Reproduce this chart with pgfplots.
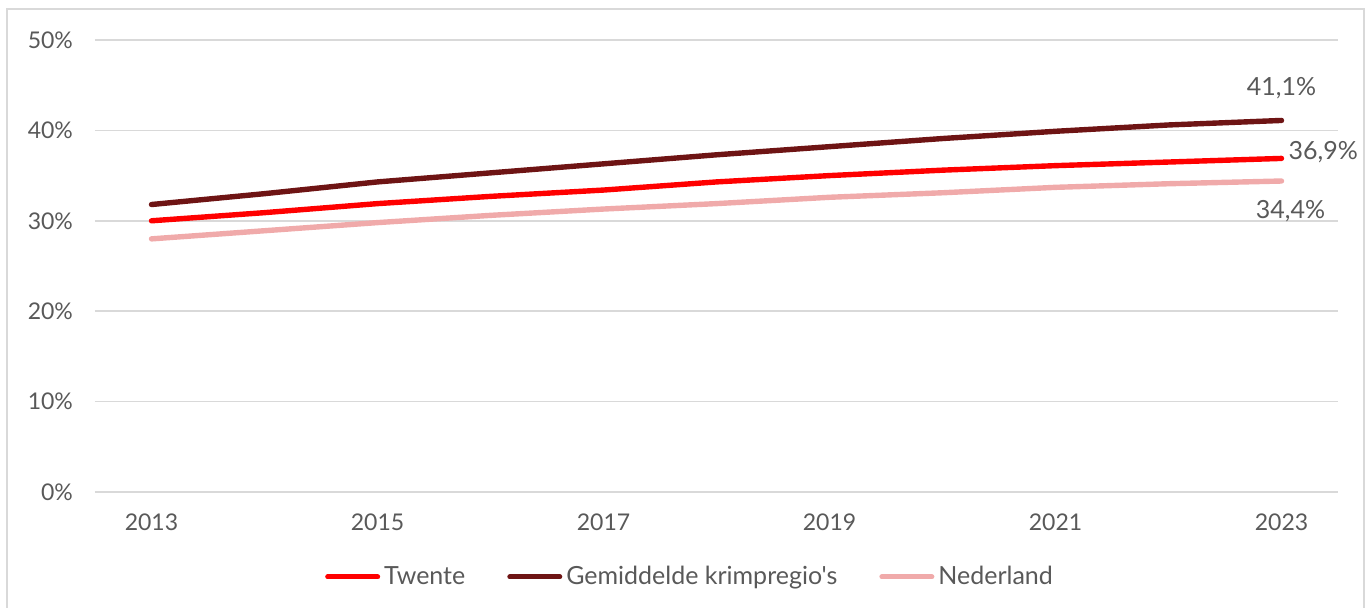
\documentclass[border=0pt]{standalone}
\usepackage{pgfplots}
\pgfplotsset{compat=1.18}
\usepackage{fontspec}
\setmainfont{Lato}[Ligatures=TeXOff]
\definecolor{cdark}{HTML}{6E1414}
\definecolor{cred}{HTML}{FF0000}
\definecolor{cpink}{HTML}{F0AAAA}
\definecolor{cgrid}{HTML}{D9D9D9}
\definecolor{ctext}{HTML}{595959}
\pgfplotstableread{
year twente krimp nl
2013 30.0 31.8 28.0
2014 30.9 33.0 28.9
2015 31.9 34.3 29.8
2016 32.7 35.3 30.6
2017 33.4 36.3 31.3
2018 34.3 37.3 31.9
2019 35.0 38.2 32.6
2020 35.6 39.1 33.1
2021 36.1 39.9 33.7
2022 36.5 40.6 34.1
2023 36.9 41.1 34.4
}\datatable
\begin{document}
\begin{tikzpicture}[font=\fontsize{11.5}{13}\selectfont]
\path[use as bounding box] (0,0) rectangle (685pt,304pt);
\draw[cgrid, line width=0.7pt] (3.5pt,-2pt) -- (3.5pt,299.5pt) -- (682pt,299.5pt) -- (682pt,-2pt);
\begin{axis}[
  at={(47.5pt,58pt)}, anchor=south west,
  scale only axis, width=621.5pt, height=226pt,
  xmin=2012.5, xmax=2023.5, ymin=0, ymax=50,
  clip=false,
  xtick={2013,2015,...,2023},
  ytick={0,10,...,50},
  yticklabel={\pgfmathprintnumber{\tick}\%},
  xticklabel style={/pgf/number format/1000 sep={}, anchor=base, yshift=-19.5pt, text=ctext},
  yticklabel style={anchor=east, xshift=-7.5pt, text=ctext},
  /pgf/number format/assume math mode=true,
  major tick length=0pt,
  axis line style={draw=none},
  ymajorgrids, major grid style={cgrid, line width=0.8pt},
  legend style={at={(0.4795,-0.188)}, anchor=center, draw=none, fill=none,
    legend columns=3, text=ctext, inner sep=0pt, font=\fontsize{12.5}{14}\selectfont,
    /tikz/every even column/.append style={column sep=19pt}},
  legend image code/.code={\draw[#1, line width=2.5pt, line cap=round] (0pt,0pt) -- (25pt,0pt);},
  every axis plot/.append style={line width=2.7pt, line cap=round, line join=round, mark=none},
]
\addplot[cred] table[x=year, y=twente] {\datatable};
\addlegendentry{Twente}
\addplot[cdark] table[x=year, y=krimp] {\datatable};
\addlegendentry{Gemiddelde krimpregio's}
\addplot[cpink] table[x=year, y=nl] {\datatable};
\addlegendentry{Nederland}
\begin{scope}[every node/.style={text=ctext, font=\fontsize{12.5}{14}\selectfont}]
\node at (axis cs:2023,44.7) {41,1\%};
\node at (axis cs:2023.37,37.6) {36,9\%};
\node at (axis cs:2023.08,31.1) {34,4\%};
\end{scope}
\end{axis}
\end{tikzpicture}
\end{document}
